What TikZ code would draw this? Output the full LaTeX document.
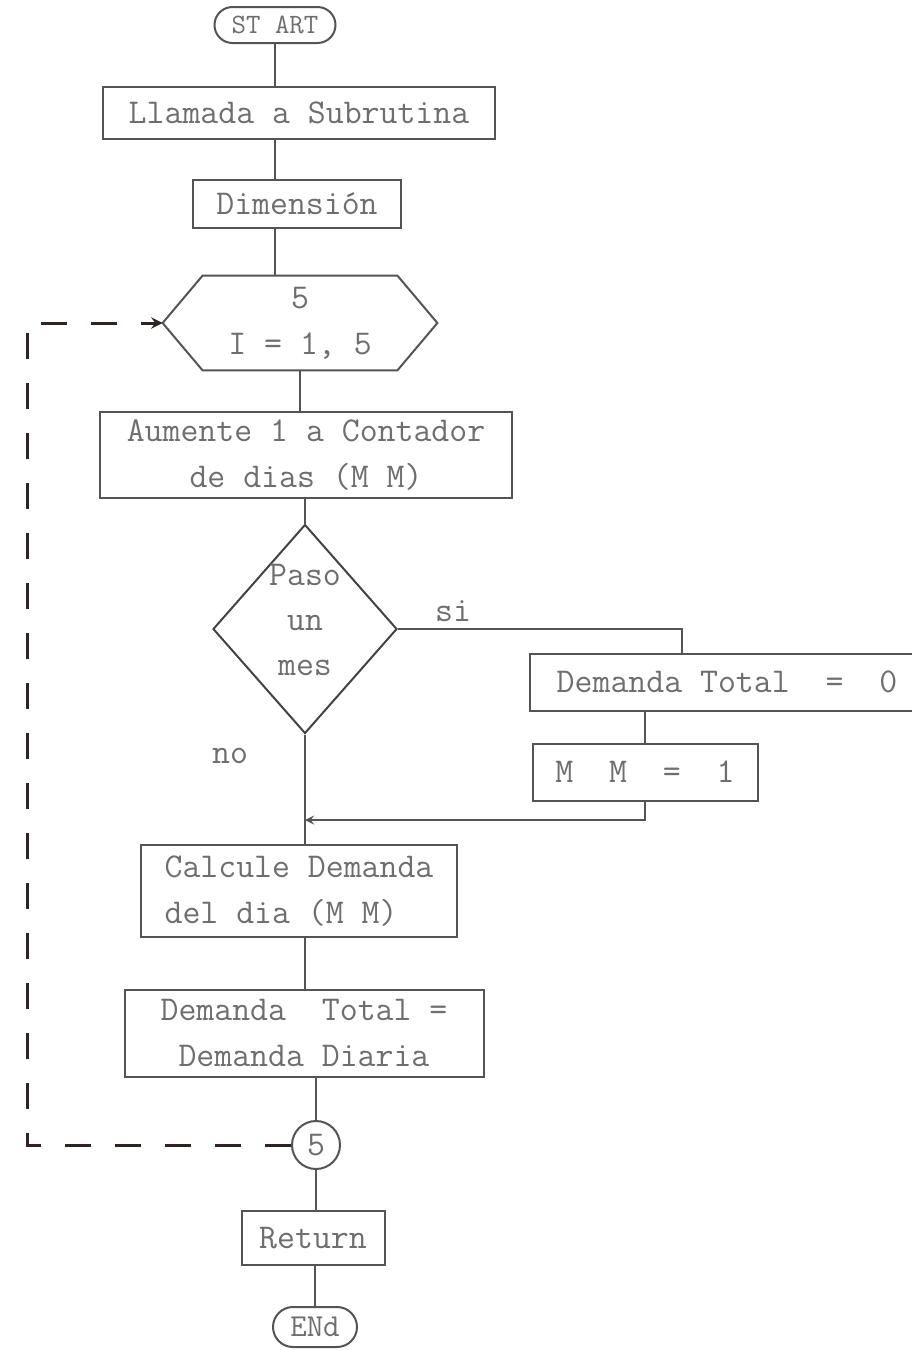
\documentclass[tikz,border=0pt]{standalone}
\usepackage{fontspec}
\usetikzlibrary{shapes.geometric,shapes.misc}
\newlength{\du}
\setlength{\du}{0.5pt}
\definecolor{dialinecolor}{rgb}{0.330000, 0.330000, 0.330000}
\definecolor{diatextcolor}{rgb}{0.430000, 0.430000, 0.430000}
\definecolor{dialoopcolor}{rgb}{0.180000, 0.140000, 0.140000}
\tikzset{
  flowtext/.style={text=diatextcolor, inner sep=0pt, font=\ttfamily\fontsize{17.4}{23}\selectfont},
  flowbox/.style={flowtext, draw=dialinecolor, line width=2\du},
  termbox/.style={flowbox, rounded rectangle, minimum height=36\du},
  flowdiamond/.style={diamond, draw=dialinecolor!80!black, line width=2\du, inner sep=0pt, minimum width=184\du, minimum height=209\du},
  flowcircle/.style={flowbox, circle, minimum size=48\du},
  flowline/.style={draw=dialinecolor, line width=2\du},
  loopline/.style={draw=dialoopcolor, line width=3\du, dash pattern=on 26\du off 24\du}
}

\begin{document}
\begin{tikzpicture}
\pgftransformxscale{1.000000}
\pgftransformyscale{-1.000000}
\useasboundingbox (0\du,0\du) rectangle (911\du,1350\du);
% main column
\node[termbox, minimum width=121\du, font=\ttfamily\fontsize{14}{16}\selectfont] (start) at (275\du,25\du){ST ART};
\node[flowbox, minimum width=392\du, minimum height=52\du] (llamada) at (299\du,113\du){Llamada a Subrutina};
\node[flowbox, minimum width=208\du, minimum height=48\du] (dimension) at (297\du,204\du){Dimensión};
\node[flowtext, minimum width=274\du, minimum height=94\du, align=center] (loop) at (300\du,323\du){5\\I = 1, 5};
\draw[flowline] (loop.west) -- ([xshift=40\du]loop.north west) -- ([xshift=-40\du]loop.north east) -- (loop.east)
  -- ([xshift=-40\du]loop.south east) -- ([xshift=40\du]loop.south west) -- cycle;
\node[flowbox, minimum width=412\du, minimum height=86\du, align=center] (aumente) at (306\du,455\du){Aumente 1 a Contador\\de dias (M M)};
\node[flowdiamond] (paso) at (305\du,629\du){};
\node[flowtext, align=center, font=\ttfamily\fontsize{17.4}{22.5}\selectfont] (pasotxt) at (305\du,620\du){Paso\\un\\mes};
\node[flowtext] (si) at (453\du,611\du){si};
\node[flowtext] (no) at (230\du,756\du){no};
% si branch
\node[flowbox, minimum width=395\du, minimum height=57\du] (demtot) at (727\du,682\du){Demanda Total~~=~~0};
\node[flowbox, minimum width=225\du, minimum height=57\du] (mm) at (645\du,772\du){M~~M~~=~~1};
\coordinate (merge) at (305\du,820\du);
\node[flowbox, minimum width=316\du, minimum height=92\du, align=left] (calcule) at (299\du,891\du){Calcule Demanda\\del dia (M M)};
\node[flowbox, minimum width=359\du, minimum height=87\du, align=center] (diaria) at (304\du,1033\du){Demanda~~Total =\\Demanda Diaria};
\node[flowcircle] (cinco) at (316\du,1145\du){5};
\node[flowbox, minimum width=143\du, minimum height=54\du] (return) at (313\du,1238\du){Return};
\node[termbox, minimum width=84\du, minimum height=40\du, font=\ttfamily\fontsize{16}{18}\selectfont] (fin) at (315\du,1327\du){ENd};
\coordinate (loopcorner) at (27\du,323\du);
% connectors
\draw[flowline] (start.south) -- (start.south |- llamada.north);
\draw[flowline] (llamada.south -| start) -- (start |- dimension.north);
\draw[flowline] (dimension.south -| start) -- (start |- loop.north);
\draw[flowline] (loop.south) -- (loop.south |- aumente.north);
\draw[flowline] (aumente.south -| paso) -- (paso.north);
\draw[flowline] (paso.south) -- (paso.south |- calcule.north);
\draw[flowline] (paso.east) -| ([xshift=153\du]demtot.north west);
\draw[flowline] (mm.north |- demtot.south) -- (mm.north);
\draw[flowline, -stealth] (mm.south) |- (merge);
\draw[flowline] (calcule.south -| paso) -- (paso |- diaria.north);
\draw[flowline] (diaria.south -| cinco) -- (cinco.north);
\draw[flowline] (cinco.south) -- (cinco.south |- return.north);
\draw[flowline] (return.south -| fin) -- (fin.north);
\draw[loopline, -stealth] (cinco.west) -| (loopcorner) -- (loop.west);
\end{tikzpicture}
\end{document}
